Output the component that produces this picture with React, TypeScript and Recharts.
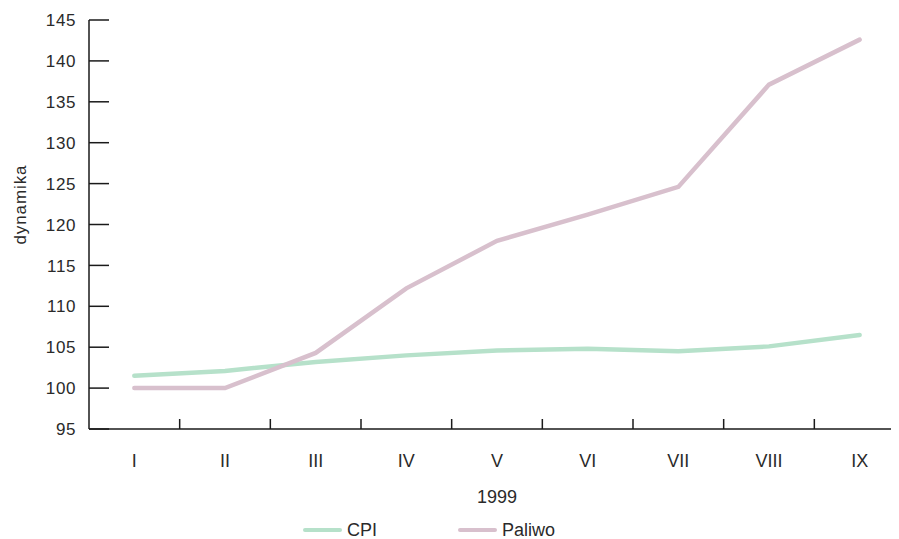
import React from "react";
import { LineChart, Line, XAxis, YAxis, Legend } from "recharts";

const months = ["I", "II", "III", "IV", "V", "VI", "VII", "VIII", "IX"];
const cpi = [101.5, 102.1, 103.2, 104.0, 104.6, 104.8, 104.5, 105.1, 106.5];
const paliwo = [100.0, 100.0, 104.3, 112.2, 118.0, 121.2, 124.6, 137.1, 142.6];
const yTicks = [95, 100, 105, 110, 115, 120, 125, 130, 135, 140, 145];

const FONT = '"Liberation Sans", Arial, sans-serif';
const TEXT = "#2a2a2a";
const AXIS = "#1a1a1a";
const GREEN = "#b6e1ca";
const PINK = "#d8c0cd";

// each month sits in the middle of its slot; slot edges get the tick marks
const data = months.map((m, i) => ({
  month: m,
  pos: i + 0.5,
  cpi: cpi[i],
  paliwo: paliwo[i],
}));
const xTicks = months.flatMap((_, i) => (i === 0 ? [0.5] : [i, i + 0.5]));

function XTick(props: any) {
  const { x, y, payload } = props;
  const v = payload.value as number;
  if (Number.isInteger(v)) {
    return <line x1={x} x2={x} y1={y} y2={y - 10} stroke={AXIS} strokeWidth={1.5} />;
  }
  return (
    <text x={x} y={y + 38} textAnchor="middle" fill={TEXT} fontSize={18} fontFamily={FONT}>
      {months[Math.floor(v)]}
    </text>
  );
}

function YTick(props: any) {
  const { x, y, payload } = props;
  return (
    <g>
      <line x1={x} x2={x + 20} y1={y} y2={y} stroke={AXIS} strokeWidth={1.5} />
      <text
        x={x - 13}
        y={y}
        dy="0.36em"
        textAnchor="end"
        fill={TEXT}
        fontSize={17}
        fontFamily={FONT}
        letterSpacing={0.6}
      >
        {payload.value}
      </text>
    </g>
  );
}

function YLabel(props: any) {
  const { viewBox } = props;
  const x = viewBox.x + 26;
  const y = viewBox.y + viewBox.height / 2 - 20;
  return (
    <text
      x={x}
      y={y}
      transform={`rotate(-90, ${x}, ${y})`}
      textAnchor="middle"
      fill={TEXT}
      fontSize={17}
      fontFamily={FONT}
      letterSpacing={0.9}
    >
      dynamika
    </text>
  );
}

function LegendContent(props: any) {
  const { payload = [] } = props;
  return (
    <div style={{ display: "flex", alignItems: "center", fontFamily: FONT, height: 16 }}>
      {payload.map((p: any) => (
        <div key={p.value} style={{ display: "flex", alignItems: "center", width: 155, height: 16 }}>
          <span
            style={{
              display: "inline-block",
              width: 39,
              height: 4,
              borderRadius: 2,
              background: p.color,
              marginRight: 5,
            }}
          />
          <span style={{ fontSize: 18, lineHeight: "16px", color: TEXT }}>{p.value}</span>
        </div>
      ))}
    </div>
  );
}

export default function App() {
  return (
    <div style={{ marginLeft: -8, marginTop: -8, width: 899, height: 539, overflow: "hidden" }}>
      <LineChart width={910} height={539} data={data} margin={{ top: 20, right: 5, left: 0, bottom: 0 }}>
        <XAxis
          dataKey="pos"
          type="number"
          domain={[0, 9]}
          ticks={xTicks}
          interval={0}
          height={110}
          tickSize={0}
          tickMargin={0}
          tickLine={false}
          tick={<XTick />}
          axisLine={{ stroke: AXIS, strokeWidth: 1.5 }}
          label={{
            value: "1999",
            position: "insideTop",
            offset: 61,
            fill: TEXT,
            fontSize: 18,
            fontFamily: FONT,
          }}
        />
        <YAxis
          type="number"
          domain={[95, 145]}
          ticks={yTicks}
          interval={0}
          width={89}
          tickSize={0}
          tickMargin={0}
          tickLine={false}
          tick={<YTick />}
          axisLine={{ stroke: AXIS, strokeWidth: 1.5 }}
          label={<YLabel />}
        />
        <Legend
          layout="vertical"
          align="center"
          verticalAlign="middle"
          content={<LegendContent />}
          wrapperStyle={{ left: 303, top: 522, width: 400, height: 16 }}
        />
        <Line
          type="linear"
          dataKey="cpi"
          name="CPI"
          stroke={GREEN}
          strokeWidth={4.5}
          strokeLinecap="round"
          dot={false}
          activeDot={false}
          isAnimationActive={false}
        />
        <Line
          type="linear"
          dataKey="paliwo"
          name="Paliwo"
          stroke={PINK}
          strokeWidth={4.5}
          strokeLinecap="round"
          dot={false}
          activeDot={false}
          isAnimationActive={false}
        />
      </LineChart>
    </div>
  );
}
